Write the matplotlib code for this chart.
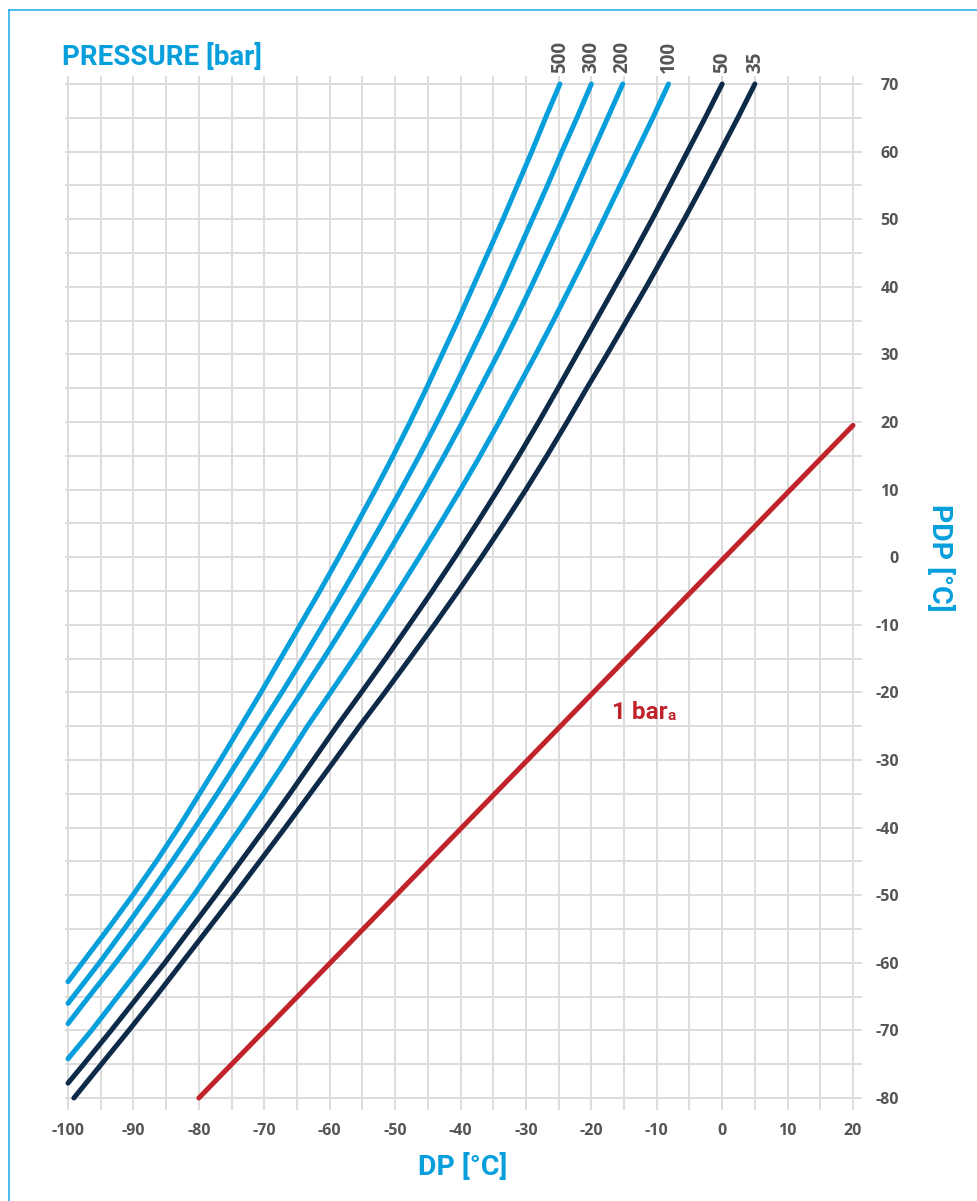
import matplotlib.pyplot as plt
from matplotlib.lines import Line2D

# DP [°C] at given PDP [°C] levels, one pair per pressure
pdp_500 = [-62.8, -60, -55, -50, -45, -40, -35, -30, -25, -20, -15, -10, -5, 0,
           5, 10, 15, 20, 25, 30, 35, 40, 45, 50, 55, 60, 65, 70]
dp_500 = [-100, -97.8, -93.9, -90.1, -86.5, -83.1, -79.9, -76.7, -73.6, -70.5,
          -67.5, -64.5, -61.5, -58.6, -55.8, -53.0, -50.3, -47.7, -45.2, -42.8,
          -40.4, -38.1, -35.8, -33.5, -31.3, -29.1, -27.0, -24.8]

pdp_300 = [-66, -60, -55, -50, -45, -40, -35, -30, -25, -20, -15, -10, -5, 0,
           5, 10, 15, 20, 25, 30, 35, 40, 45, 50, 55, 60, 65, 70]
dp_300 = [-100, -95.2, -91.4, -87.7, -84.1, -80.6, -77.2, -73.9, -70.6, -67.3,
          -64.1, -61.0, -57.95, -54.95, -52.0, -49.1, -46.3, -43.6, -41.0, -38.5,
          -36.0, -33.6, -31.3, -29.0, -26.7, -24.5, -22.2, -20.0]

pdp_200 = [-69, -65, -60, -55, -50, -45, -40, -35, -30, -25, -20, -15, -10, -5, 0,
           5, 10, 15, 20, 25, 30, 35, 40, 45, 50, 55, 60, 65, 70]
dp_200 = [-100, -96.8, -92.7, -88.8, -85.0, -81.3, -77.75, -74.3, -70.95, -67.7,
          -64.3, -60.95, -57.7, -54.55, -51.45, -48.4, -45.4, -42.5, -39.7, -37.0,
          -34.3, -31.7, -29.2, -26.8, -24.4, -22.1, -19.8, -17.5, -15.2]

pdp_100 = [-74.2, -70, -65, -60, -55, -50, -45, -40, -35, -30, -25, -20, -15, -10, -5, 0,
           5, 10, 15, 20, 25, 30, 35, 40, 45, 50, 55, 60, 65, 70]
dp_100 = [-100, -96.4, -92.4, -88.4, -84.6, -80.8, -77.2, -73.6, -70.1, -66.7, -63.4,
          -59.85, -56.35, -52.9, -49.55, -46.3, -43.1, -40.0, -37.0, -34.1, -31.3,
          -28.5, -25.8, -23.2, -20.6, -18.1, -15.6, -13.1, -10.6, -8.2]

pdp_50 = [-77.8, -75, -70, -65, -60, -55, -50, -45, -40, -35, -30, -25, -20, -15, -10, -5, 0,
          5, 10, 15, 20, 25, 30, 35, 40, 45, 50, 55, 60, 65, 70]
dp_50 = [-100, -97.6, -93.4, -89.3, -85.2, -81.3, -77.4, -73.6, -69.8, -66.1, -62.5, -58.9,
         -55.15, -51.45, -47.85, -44.3, -40.85, -37.5, -34.25, -31.1, -28.05, -25.1,
         -22.2, -19.3, -16.4, -13.5, -10.7, -8.0, -5.3, -2.6, 0.0]

pdp_35 = [-80, -75, -70, -65, -60, -55, -50, -45, -40, -35, -30, -25, -20, -15, -10, -5, 0,
          5, 10, 15, 20, 25, 30, 35, 40, 45, 50, 55, 60, 65, 70]
dp_35 = [-99.1, -94.9, -90.7, -86.6, -82.6, -78.6, -74.6, -70.7, -66.8, -63.0, -59.2, -55.45,
         -51.55, -47.75, -44.0, -40.35, -36.8, -33.35, -30.0, -26.8, -23.7, -20.7,
         -17.6, -14.6, -11.6, -8.7, -5.8, -3.0, -0.3, 2.4, 5.0]

# atmospheric line (1 bar a)
dp_1bar = [-80, 20]
pdp_1bar = [-80, 19.5]

pressure_labels = ["500", "300", "200", "100", "50", "35"]
x_ticks = list(range(-100, 21, 10))
y_ticks = list(range(-80, 71, 10))

CYAN = "#069fdc"
NAVY = "#0d2a48"
RED = "#c1232b"
GRID = "#dcdcdc"
TICK = "#555555"

W, H = 978, 1201
fig = plt.figure(figsize=(W / 100, H / 100), dpi=100)
ax = fig.add_axes([68 / W, 1 - 1098 / H, 785 / W, 1014 / H])
ax.set_xlim(-100, 20)
ax.set_ylim(-80, 70)
for s in ax.spines.values():
    s.set_visible(False)

# grid, a little longer than the plot area like in the original
for x in range(-100, 21, 5):
    ax.plot([x, x], [-81.6, 71.0], color=GRID, lw=1.4, clip_on=False, zorder=1)
for y in range(-80, 71, 5):
    ax.plot([-100.3, 21.2], [y, y], color=GRID, lw=1.4, clip_on=False, zorder=1)

curves = [
    (dp_500, pdp_500, CYAN),
    (dp_300, pdp_300, CYAN),
    (dp_200, pdp_200, CYAN),
    (dp_100, pdp_100, CYAN),
    (dp_50, pdp_50, NAVY),
    (dp_35, pdp_35, NAVY),
]
for (xs, ys, c), lab in zip(curves, pressure_labels):
    ax.plot(xs, ys, color=c, lw=3.6, solid_capstyle="round", solid_joinstyle="round",
            zorder=3, clip_on=False)
    ax.text(xs[-1], 71.7, lab, rotation=90, ha="center", va="bottom",
            fontsize=13.5, fontweight="bold", color=TICK, family="Open Sans")

ax.plot(dp_1bar, pdp_1bar, color=RED, lw=3.6, solid_capstyle="round", zorder=3, clip_on=False)
t = ax.text(-16.8, -23.0, "1 bar", ha="left", va="center", fontsize=17.5,
            fontweight="bold", color=RED, family="Roboto")
ax.annotate("a", xy=(1, 0), xycoords=t, xytext=(-0.5, 1), textcoords="offset points",
            ha="left", va="bottom", fontsize=11, fontweight="bold", color=RED,
            family="Roboto")

# ticks
ax.set_xticks(x_ticks)
ax.set_xticklabels([str(v) for v in x_ticks])
ax.set_yticks(y_ticks)
ax.set_yticklabels([str(v) for v in y_ticks])
ax.yaxis.tick_right()
ax.tick_params(axis="both", length=0, labelsize=11.5, labelcolor=TICK)
ax.tick_params(axis="x", pad=18)
ax.tick_params(axis="y", pad=33)
for lbl in ax.get_xticklabels() + ax.get_yticklabels():
    lbl.set_fontweight("bold")
    lbl.set_family("Open Sans")
for lbl in ax.get_yticklabels():
    lbl.set_ha("right")

# titles
fig.text(62 / W, 1 - 57 / H, "PRESSURE [bar]", ha="left", va="center",
         fontsize=20, fontweight="bold", color=CYAN, family="Roboto")
fig.text(463 / W, 1 - 1167 / H, "DP [°C]", ha="center", va="center",
         fontsize=20.5, fontweight="bold", color=CYAN, family="Roboto")
fig.text(940 / W, 1 - 558 / H, "PDP [°C]", ha="center", va="center", rotation=-90,
         fontsize=20.5, fontweight="bold", color=CYAN, family="Roboto")

# thin frame round the chart (runs off right and bottom edges)
fig.add_artist(Line2D([9 / W, 9 / W], [0, 1 - 10 / H], color="#2bb0e6", lw=1.2))
fig.add_artist(Line2D([9 / W, 1], [1 - 10 / H, 1 - 10 / H], color="#2bb0e6", lw=1.2))

fig.savefig("out.png", dpi=100)
